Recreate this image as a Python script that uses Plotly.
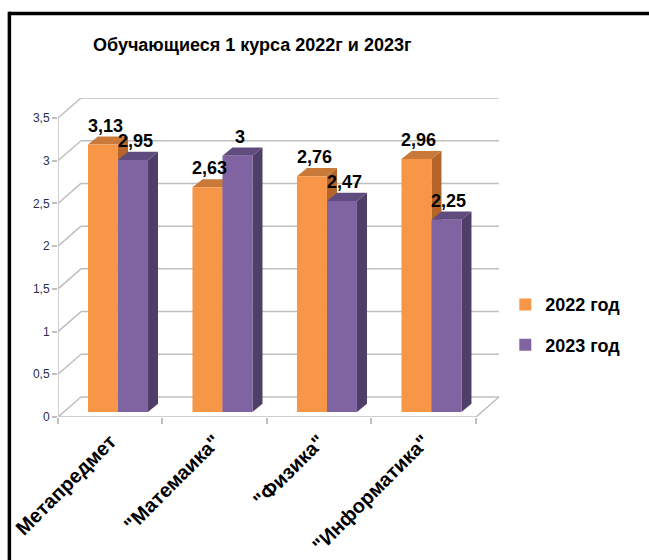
import plotly.graph_objects as go

# ---- data ----
categories = ['Метапредмет', '"Матемаика"', '"Физика"', '"Информатика"']
series_names = ['2022 год', '2023 год']
values_2022 = [3.13, 2.63, 2.76, 2.96]
values_2023 = [2.95, 3.00, 2.47, 2.25]
y_tick_vals = [0, 0.5, 1, 1.5, 2, 2.5, 3, 3.5]
y_tick_text = ['0', '0,5', '1', '1,5', '2', '2,5', '3', '3,5']
title_text = 'Обучающиеся 1 курса 2022г и 2023г'

# ---- styling / geometry ----
front_colors = ['#F79646', '#8064A2']
side_colors = ['#B5652A', '#4F3F68']
top_colors = ['#C97A38', '#5F4B7E']
grid_color = '#BFBFBF'
DX, DY = 0.22, 0.234          # depth of walls (data units)
BAR_W = 0.287
OFFS = [-0.213, 0.074]
BASE = 0.059
BDX, BDY = 0.096, 0.095       # depth of bar boxes
X_MIN, X_MAX = -0.5, len(categories) - 0.5
Y_TOP = max(y_tick_vals)

def fmt(v):
    return f"{v:g}".replace('.', ',')

series = [values_2022, values_2023]

fig = go.Figure()
shapes = []

# back wall gridlines + diagonals
for v in y_tick_vals:
    shapes.append(dict(type='line', xref='x', yref='y', x0=X_MIN, y0=v, x1=X_MIN + DX, y1=v + DY,
                       line=dict(color=grid_color, width=1.5), layer='below'))
    shapes.append(dict(type='line', xref='x', yref='y', x0=X_MIN + DX, y0=v + DY, x1=X_MAX + DX, y1=v + DY,
                       line=dict(color=grid_color, width=1.5), layer='below'))
# floor right diagonal
shapes.append(dict(type='line', xref='x', yref='y', x0=X_MAX, y0=0, x1=X_MAX + DX, y1=DY,
                   line=dict(color=grid_color, width=1.5), layer='below'))
# front axis lines
shapes.append(dict(type='line', xref='x', yref='y', x0=X_MIN, y0=0, x1=X_MAX, y1=0,
                   line=dict(color=grid_color, width=1.5), layer='above'))
shapes.append(dict(type='line', xref='x', yref='y', x0=X_MIN, y0=0, x1=X_MIN, y1=Y_TOP,
                   line=dict(color=grid_color, width=1.5), layer='above'))

annotations = []
for s, vals in enumerate(series):
    for i, v in enumerate(vals):
        x0 = i + OFFS[s]
        x1 = x0 + BAR_W
        yb = BASE
        yt = BASE + v
        # side face
        shapes.append(dict(type='path', xref='x', yref='y',
                           path=f"M {x1} {yb} L {x1} {yt} L {x1 + BDX} {yt + BDY} L {x1 + BDX} {yb + BDY} Z",
                           fillcolor=side_colors[s], line=dict(width=0), layer='below'))
        # top face
        shapes.append(dict(type='path', xref='x', yref='y',
                           path=f"M {x0} {yt} L {x1} {yt} L {x1 + BDX} {yt + BDY} L {x0 + BDX} {yt + BDY} Z",
                           fillcolor=top_colors[s], line=dict(width=0), layer='below'))
        annotations.append(dict(x=x0 + BAR_W / 2 + 0.02, y=yt, xref='x', yref='y', text=fmt(v),
                                showarrow=False, yanchor='bottom', yshift=7,
                                font=dict(family='Liberation Sans', size=18, color='black', weight='bold')))

for s, vals in enumerate(series):
    fig.add_trace(go.Bar(
        x=categories, y=vals, base=[BASE] * len(vals), name=series_names[s],
        offset=OFFS[s], width=BAR_W, marker=dict(color=front_colors[s], line=dict(width=0)),
        legendgroup=series_names[s], hoverinfo='skip'))

# outer frame (top and left thick lines)
shapes.append(dict(type='line', xref='paper', yref='paper', x0=-0.11, y0=1.265, x1=1.4, y1=1.265,
                   line=dict(color='black', width=3.5)))
shapes.append(dict(type='line', xref='paper', yref='paper', x0=-0.11, y0=1.27, x1=-0.11, y1=-0.5,
                   line=dict(color='black', width=3.5)))

annotations.append(dict(text=title_text, xref='paper', yref='paper', x=0.439, y=1.166,
                        showarrow=False, xanchor='center', yanchor='middle',
                        font=dict(family='Liberation Sans', size=18, color='black', weight='bold')))

fig.update_layout(
    width=649, height=560,
    margin=dict(l=58, r=149, t=98, b=143, autoexpand=False),
    paper_bgcolor='white', plot_bgcolor='white',
    barmode='overlay',
    showlegend=True,
    legend=dict(x=1.012, y=0.41, xanchor='left', yanchor='top', traceorder='grouped',
                tracegroupgap=14, font=dict(family='Liberation Sans', size=18, color='black', weight='bold'),
                bgcolor='rgba(0,0,0,0)'),
    xaxis=dict(type='category', range=[X_MIN, X_MAX + DX + 0.01], tickson='boundaries', ticks='outside',
               ticklen=6, tickcolor=grid_color, tickwidth=1.5, showgrid=False, showline=False, zeroline=False,
               tickangle=-45, ticklabelstandoff=8, automargin=False,
               tickfont=dict(family='Liberation Sans', size=20, color='black', weight='bold')),
    yaxis=dict(range=[0, Y_TOP + DY], tickvals=y_tick_vals, ticktext=y_tick_text, ticks='outside',
               ticklen=5, tickcolor=grid_color, tickwidth=1.5, showgrid=False, showline=False, zeroline=False,
               automargin=False,
               tickfont=dict(family='Liberation Sans', size=12, color='#1F2F4F')),
    shapes=shapes,
    annotations=annotations,
)

fig.write_html("out.html", config={'displayModeBar': False},
               post_script="document.body.style.margin='0';document.body.style.overflow='hidden';")
